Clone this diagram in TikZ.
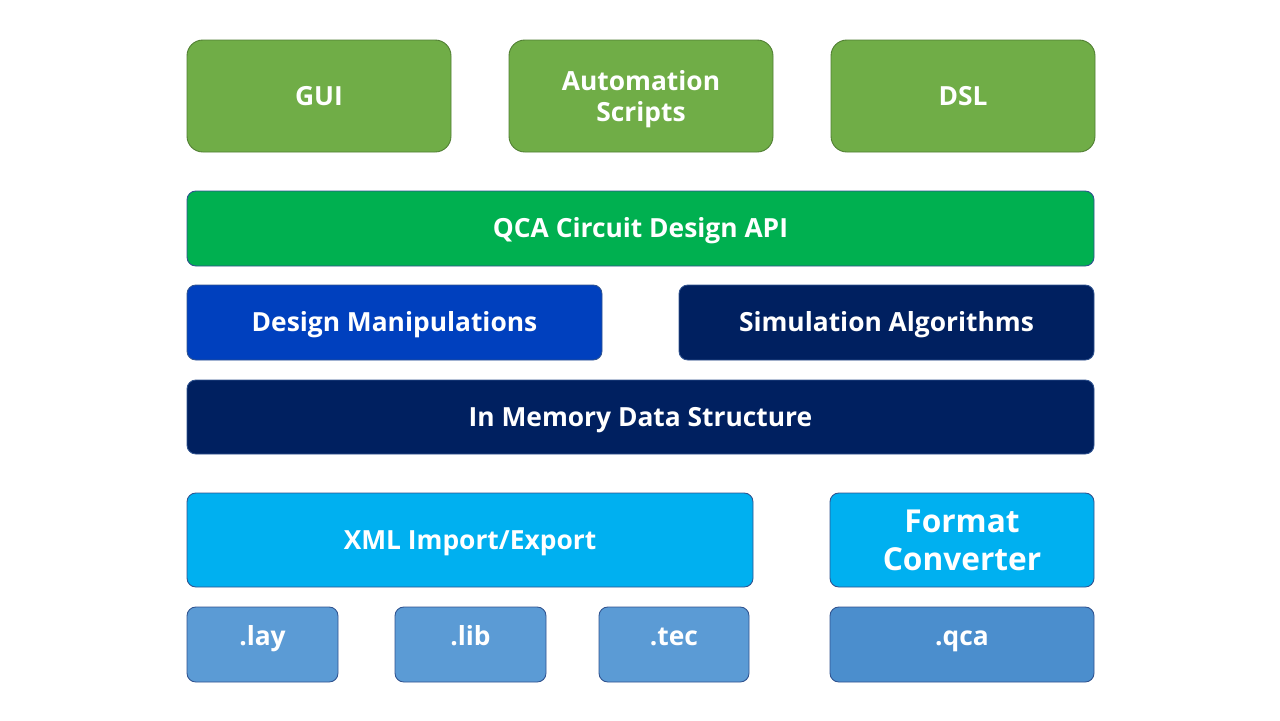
\documentclass[tikz,border=0pt]{standalone}
\usepackage{fontspec}
\setmainfont{Open Sans}
\usepackage{xcolor}
\usepackage{tikz}
\usetikzlibrary{positioning}
\definecolor{toplayer}{RGB}{112,173,71}
\definecolor{toplayerline}{RGB}{80,126,50}
\definecolor{apigreen}{RGB}{0,176,80}
\definecolor{manipblue}{RGB}{0,64,190}
\definecolor{navy}{RGB}{0,32,96}
\definecolor{iocyan}{RGB}{0,176,240}
\definecolor{fileblue}{RGB}{91,155,213}
\definecolor{qcablue}{RGB}{75,142,205}
\definecolor{edgeblue}{RGB}{47,82,143}
\tikzset{
  blk/.style={rectangle, draw=edgeblue, line width=0.5pt, align=center,
              font=\fontsize{15}{18}\selectfont\bfseries, text=white, outer sep=0pt,
              rounded corners=5pt, inner sep=2pt, minimum height=1.5cm},
  oneline/.style={text height=13.6pt, text depth=3pt},
  app/.style={blk, fill=toplayer, draw=toplayerline, rounded corners=9pt,
              minimum width=5.28cm, minimum height=2.24cm},
  api/.style={blk, oneline, fill=apigreen, minimum width=18.14cm},
  core/.style={blk, oneline, minimum width=8.3cm},
  io/.style={blk, fill=iocyan, minimum height=1.88cm},
  ext/.style={blk, fill=fileblue, minimum width=3.02cm, text height=10pt, text depth=8.4pt},
}
\begin{document}
\begin{tikzpicture}
\useasboundingbox (0,0) rectangle (25.6,-14.4);
% front ends
\node[app, anchor=north west] (gui) at (3.74,-0.8) {GUI};
\node[app, right=1.16cm of gui] (scripts) {\rule{0pt}{15pt}Automation\\Scripts};
\node[app, right=1.16cm of scripts] (dsl) {DSL};
% api and core
\node[api, below right=0.78cm and 0cm of gui.south west] (api) {QCA Circuit Design API};
\node[core, fill=manipblue, below right=0.38cm and 0cm of api.south west] (manip) {Design Manipulations};
\node[core, fill=navy, below left=0.38cm and 0cm of api.south east] (sim) {Simulation Algorithms};
\node[api, fill=navy, below right=0.4cm and 0cm of manip.south west, minimum height=1.48cm] (mem) {In Memory Data Structure};
% persistence
\node[io, oneline, minimum width=11.32cm, below right=0.78cm and 0cm of mem.south west] (xml) {XML Import/Export};
\node[io, minimum width=5.28cm, font=\fontsize{18}{21.5}\selectfont\bfseries,
      below left=0.78cm and 0cm of mem.south east] (conv) {Format\\Converter};
\node[ext, below right=0.4cm and 0cm of xml.south west] (lay) {.lay};
\node[ext, right=1.14cm of lay] (lib) {.lib};
\node[ext, right=1.06cm of lib, minimum width=3cm] (tec) {.tec};
\node[ext, fill=qcablue, minimum width=5.28cm, below=0.4cm of conv] (qca) {.qca};
\end{tikzpicture}
\end{document}
